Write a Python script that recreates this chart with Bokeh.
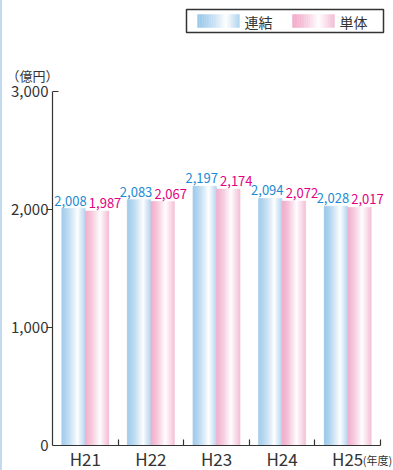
import numpy as np
from bokeh.plotting import figure
from bokeh.layouts import column
from bokeh.models import (Range1d, FixedTicker, NumeralTickFormatter, ColumnDataSource,
                          LabelSet)
from bokeh.core.properties import value
from bokeh.embed import file_html
from bokeh.resources import INLINE

# --- data -----------------------------------------------------------------
years = ["H21", "H22", "H23", "H24", "H25"]
consolidated = [2008, 2083, 2197, 2094, 2028]   # 連結
standalone = [1987, 2067, 2174, 2072, 2017]     # 単体
series_names = ["連結", "単体"]
y_ticks = [0, 1000, 2000, 3000]
y_unit = "（億円）"
x_unit = "(年度)"

# --- style ----------------------------------------------------------------
JP = "Noto Sans CJK JP"
INK = "#333333"
BLUE_DARK = (155, 201, 235)
PINK_DARK = (242, 171, 202)
BLUE_TEXT = "#1d8bd3"
PINK_TEXT = "#e4007f"

W = 393
TOP_H = 50
MAIN_H = 470 - TOP_H
N_STRIPS = 24
BAR_W = 0.36
BORDER_L, BORDER_T, BORDER_B = 52, 40, 24
AXIS_RIGHT, FRAME_RIGHT = 380, 388
# the axis label is centred on the frame end; trailing ideographic spacing
# moves the visible text back under the end of the axis
X_UNIT_PAD = "\u3000\u3000"


def shade(rgb, t, peak):
    """Colour of a cylinder-like gradient at relative position t (0..1)."""
    if t <= peak:
        w = (t / peak) ** 1.4
    else:
        w = 1.0 - 0.8 * (t - peak) / (1.0 - peak)
    r, g, b = (int(round(c * (1 - w) + 255 * w)) for c in rgb)
    return f"#{r:02x}{g:02x}{b:02x}"


def strip_colors(rgb, peak, n=N_STRIPS):
    return [shade(rgb, (i + 0.5) / n, peak) for i in range(n)]


blue_strips = strip_colors(BLUE_DARK, 0.68)
pink_strips = strip_colors(PINK_DARK, 0.62)

# --- header: legend (pixel coordinates inside the shared frame width) -----
top = figure(width=W, height=TOP_H, x_range=Range1d(BORDER_L, FRAME_RIGHT),
             y_range=Range1d(TOP_H, 0),
             output_backend="svg", toolbar_location=None,
             x_axis_type=None, y_axis_type=None,
             min_border_left=BORDER_L, min_border_right=W - FRAME_RIGHT,
             min_border_top=0, min_border_bottom=0,
             outline_line_color=None, border_fill_color=None,
             background_fill_color=None)
top.grid.visible = False

top.quad(left=[186], right=[383], top=[9], bottom=[32], fill_color=None,
         line_color=INK, line_width=1.5)

for x0, strips, name in [(197, blue_strips, series_names[0]),
                         (292, pink_strips, series_names[1])]:
    sw = 42 / N_STRIPS
    lefts = [x0 + i * sw for i in range(N_STRIPS)]
    rights = [l + sw for l in lefts]
    top.quad(left=lefts, right=rights, top=14, bottom=27,
             fill_color=strips, line_color=strips, line_width=0.4)
    top.text(x=[x0 + 47], y=[21], text=[name], text_font=value(JP),
             text_font_size="14px", text_baseline="middle", text_color=INK)

# --- main chart -----------------------------------------------------------
n = len(years)
frame_w = FRAME_RIGHT - BORDER_L
axis_w = AXIS_RIGHT - BORDER_L
frame_h = MAIN_H - BORDER_T - BORDER_B
# the frame runs a little past the last category so the x unit fits at its end
x_end = n * frame_w / axis_w
# leave one pixel above the top tick so the closing tick is not clipped
y_end = y_ticks[-1] * frame_h / (frame_h - 1)

p = figure(width=W, height=MAIN_H, x_range=Range1d(0, x_end), y_range=Range1d(y_ticks[0], y_end),
           output_backend="svg", toolbar_location=None,
           min_border_left=BORDER_L, min_border_right=W - FRAME_RIGHT,
           min_border_top=BORDER_T, min_border_bottom=BORDER_B,
           outline_line_color=None, border_fill_color=None,
           background_fill_color=None)
p.grid.visible = False

# unit of the values, above the top of the y axis
p.title.text = y_unit
p.title.align = "left"
p.title.offset = -46
p.title.standoff = 11
p.title.text_font = JP
p.title.text_font_size = "13px"
p.title.text_font_style = "normal"
p.title.text_color = INK

centers = np.arange(n) + 0.5
sw = BAR_W / N_STRIPS
for vals, strips, side in [(consolidated, blue_strips, -1), (standalone, pink_strips, 1)]:
    xs, tops, cols = [], [], []
    for c, v in zip(centers, vals):
        bar_left = c + (side - 1) * BAR_W / 2
        for i, col in enumerate(strips):
            xs.append(bar_left + (i + 0.5) * sw)
            tops.append(v)
            cols.append(col)
    src = ColumnDataSource(dict(x=xs, top=tops, color=cols))
    p.vbar(x="x", width=sw, top="top", bottom=0, source=src,
           fill_color="color", line_color="color", line_width=0.4)

# value labels above the bars
for vals, side, color, dx in [(consolidated, -1, BLUE_TEXT, -3), (standalone, 1, PINK_TEXT, 8)]:
    src = ColumnDataSource(dict(x=centers + side * BAR_W / 2, y=vals,
                                text=[f"{v:,}" for v in vals]))
    p.add_layout(LabelSet(x="x", y="y", text="text", source=src, x_offset=dx, y_offset=3,
                          text_align="center", text_baseline="alphabetic",
                          text_font=value(JP), text_font_size="13px", text_color=color))

# inward tick closing the top of the y axis
tick_dx = 6 * x_end / frame_w
p.segment(x0=[0], y0=[y_ticks[-1]], x1=[tick_dx], y1=[y_ticks[-1]],
          line_color=INK, line_width=1.2)

# x axis: labels under each category, ticks at the boundaries pointing inwards
xa = p.xaxis[0]
xa.bounds = (0, n)
xa.ticker = FixedTicker(ticks=list(centers), minor_ticks=list(range(1, n + 1)))
xa.major_label_overrides = {float(c): y for c, y in zip(centers, years)}
xa.major_tick_in = 0
xa.major_tick_out = 0
xa.minor_tick_in = 6
xa.minor_tick_out = 0
xa.minor_tick_line_color = INK
xa.minor_tick_line_width = 1.2
xa.axis_line_color = INK
xa.axis_line_width = 1.2
xa.major_label_standoff = 0
xa.major_label_text_font = JP
xa.major_label_text_font_size = "17px"
xa.major_label_text_color = INK
xa.axis_label = x_unit + X_UNIT_PAD
xa.axis_label_align = "end"
xa.axis_label_standoff = -22
xa.axis_label_text_font = JP
xa.axis_label_text_font_size = "11px"
xa.axis_label_text_font_style = "normal"
xa.axis_label_text_color = INK

# y axis: labels at every step, outward ticks on the inner values
ya = p.yaxis[0]
ya.bounds = (y_ticks[0], y_ticks[-1])
ya.ticker = FixedTicker(ticks=y_ticks, minor_ticks=y_ticks[1:-1])
ya.formatter = NumeralTickFormatter(format="0,0")
ya.major_tick_in = 0
ya.major_tick_out = 0
ya.minor_tick_in = 0
ya.minor_tick_out = 6
ya.minor_tick_line_color = INK
ya.minor_tick_line_width = 1.2
ya.axis_line_color = INK
ya.axis_line_width = 1.2
ya.major_label_standoff = -2
ya.major_label_text_font = JP
ya.major_label_text_font_size = "15px"
ya.major_label_text_color = INK

layout = column(top, p, styles={"box-shadow": "inset 2px 0 0 #c3d9ee"})

with open("out.html", "w") as f:
    f.write(file_html(layout, INLINE))
